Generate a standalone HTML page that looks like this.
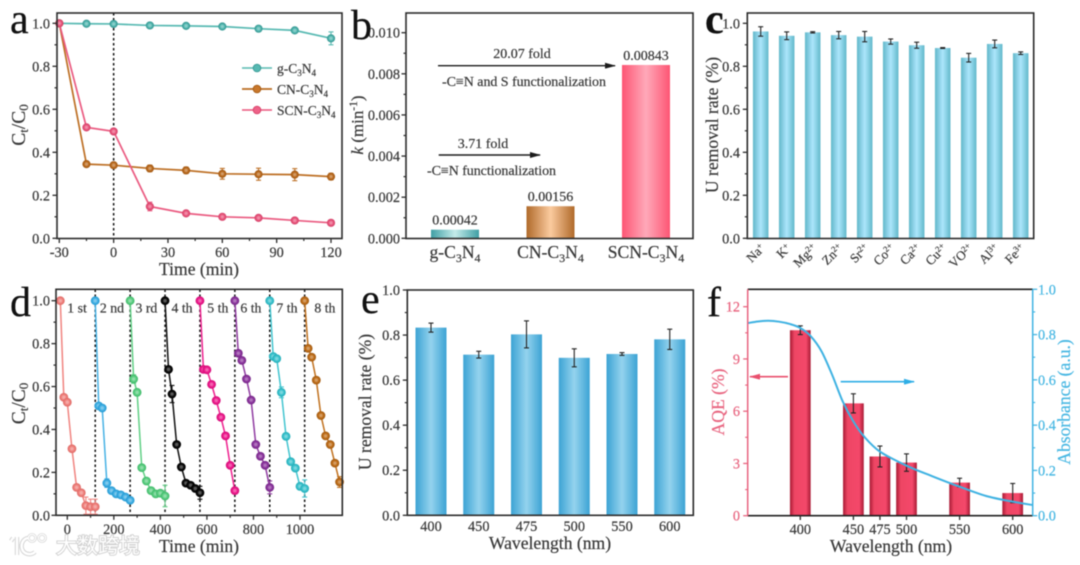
<!DOCTYPE html>
<html lang="en">
<head>
<meta charset="utf-8">
<title>Photocatalytic uranium removal figure</title>
<style>
html,body{margin:0;padding:0;background:#fff;width:1080px;height:565px;overflow:hidden}
svg{display:block;filter:blur(0.5px)}
text{font-family:"Liberation Serif","Noto Serif CJK SC",serif;fill:#383838;stroke:#383838;stroke-width:0.2px}
.tick{font-size:14.3px}
.title{font-size:17.6px}
.letter{font-size:42px;fill:#111;stroke:#111}
.note{font-size:14px}
</style>
</head>
<body>
<svg id="figure" xmlns="http://www.w3.org/2000/svg" width="1080" height="565" viewBox="0 0 1080 565">
<defs>
<linearGradient id="gradTeal" x1="0" x2="1" y1="0" y2="0"><stop offset="0" stop-color="#3f9fa5"/><stop offset=".5" stop-color="#c4ecea"/><stop offset="1" stop-color="#3f9fa5"/></linearGradient>
<linearGradient id="gradBrown" x1="0" x2="1" y1="0" y2="0"><stop offset="0" stop-color="#b06a2a"/><stop offset=".5" stop-color="#fbcb9f"/><stop offset="1" stop-color="#b06a2a"/></linearGradient>
<linearGradient id="gradPink" x1="0" x2="1" y1="0" y2="0"><stop offset="0" stop-color="#fd5574"/><stop offset=".5" stop-color="#ffa9b9"/><stop offset="1" stop-color="#fd5574"/></linearGradient>
<linearGradient id="gradCyan" x1="0" x2="1" y1="0" y2="0"><stop offset="0" stop-color="#62b8ca"/><stop offset=".5" stop-color="#ace6fc"/><stop offset="1" stop-color="#62b8ca"/></linearGradient>
<linearGradient id="gradBlue" x1="0" x2="1" y1="0" y2="0"><stop offset="0" stop-color="#3ca3d4"/><stop offset=".5" stop-color="#94d3ee"/><stop offset="1" stop-color="#3ca3d4"/></linearGradient>
<linearGradient id="gradRed" x1="0" x2="1" y1="0" y2="0"><stop offset="0" stop-color="#a81a34"/><stop offset=".22" stop-color="#ee4664"/><stop offset=".78" stop-color="#f4486a"/><stop offset="1" stop-color="#a81a34"/></linearGradient>
<marker id="arrowBlack" markerWidth="11" markerHeight="6" refX="10" refY="3" orient="auto" markerUnits="userSpaceOnUse"><path d="M0 0L11 3L0 6z" fill="#1c1c1c"/></marker>
<marker id="arrowRed" markerWidth="11" markerHeight="6" refX="10" refY="3" orient="auto" markerUnits="userSpaceOnUse"><path d="M0 0L11 3L0 6z" fill="#e9506e"/></marker>
<marker id="arrowBlue" markerWidth="11" markerHeight="6" refX="10" refY="3" orient="auto" markerUnits="userSpaceOnUse"><path d="M0 0L11 3L0 6z" fill="#2faee6"/></marker>
</defs>

<g id="panelA"></g>
<g id="panelB"></g>
<g id="panelC"></g>
<g id="panelD"></g>
<g id="panelE"></g>
<g id="panelF"></g>

<!-- panel letters -->
<text class="letter" x="10" y="33">a</text>
<text class="letter" x="351" y="39">b</text>
<text class="letter" x="705" y="33" font-weight="bold">c</text>
<text class="letter" x="10" y="316">d</text>
<text class="letter" x="361" y="313">e</text>
<text class="letter" x="707" y="316">f</text>

<!-- axis titles -->
<text class="title" x="199" y="275" text-anchor="middle">Time (min)</text>
<text class="title" transform="translate(25,125) rotate(-90)" text-anchor="middle" style="font-size:19.5px">C<tspan dy="3" font-size="13">t</tspan><tspan dy="-3">/C</tspan><tspan dy="3" font-size="13">0</tspan></text>
<text class="title" transform="translate(363,125) rotate(-90)" text-anchor="middle" style="font-size:17px"><tspan font-style="italic">k</tspan> (min<tspan dy="-6" font-size="11.5">-1</tspan><tspan dy="6">)</tspan></text>
<text class="title" transform="translate(718,125) rotate(-90)" text-anchor="middle">U removal rate (%)</text>
<text class="title" x="199" y="552" text-anchor="middle">Time (min)</text>
<text class="title" transform="translate(25,403.5) rotate(-90)" text-anchor="middle" style="font-size:19.5px">C<tspan dy="3" font-size="13">t</tspan><tspan dy="-3">/C</tspan><tspan dy="3" font-size="13">0</tspan></text>
<text class="title" x="550" y="549" text-anchor="middle">Wavelength (nm)</text>
<text class="title" transform="translate(371,402) rotate(-90)" text-anchor="middle">U removal rate (%)</text>
<text class="title" x="891" y="552" text-anchor="middle">Wavelength (nm)</text>
<text class="title" transform="translate(724,402) rotate(-90)" text-anchor="middle" style="fill:#e8647f;stroke:#e8647f">AQE (%)</text>
<text class="title" transform="translate(1070,402) rotate(-90)" text-anchor="middle" style="fill:#45b6e2;stroke:#45b6e2">Absorbance (a.u.)</text>

<!-- panel a legend -->
<g>
<g>
<line x1="242" x2="272" y1="68" y2="68" stroke="#57b9b2" stroke-width="1.6"/>
<circle cx="257" cy="68" r="3.8" fill="#57b9b2" stroke="#3c9d98"/>
<text x="277" y="73" font-size="13.5">g-C<tspan dy="3" font-size="9">3</tspan><tspan dy="-3">N</tspan><tspan dy="3" font-size="9">4</tspan></text>
</g>
<g>
<line x1="242" x2="272" y1="89" y2="89" stroke="#b96a1f" stroke-width="1.8"/>
<circle cx="257" cy="89" r="3.8" fill="#c9782c" stroke="#a85e18"/>
<text x="277" y="94" font-size="13.5">CN-C<tspan dy="3" font-size="9">3</tspan><tspan dy="-3">N</tspan><tspan dy="3" font-size="9">4</tspan></text>
</g>
<g>
<line x1="242" x2="272" y1="110" y2="110" stroke="#e9557c" stroke-width="1.6"/>
<circle cx="257" cy="110" r="3.8" fill="#ee6288" stroke="#d9476e"/>
<text x="277" y="115" font-size="13.5">SCN-C<tspan dy="3" font-size="9">3</tspan><tspan dy="-3">N</tspan><tspan dy="3" font-size="9">4</tspan></text>
</g>
</g>

<!-- panel b annotations -->
<g>
<text class="note" x="522" y="58" text-anchor="middle">20.07 fold</text>
<line x1="438" x2="615" y1="65.7" y2="65.7" stroke="#1c1c1c" stroke-width="1.4" marker-end="url(#arrowBlack)"/>
<text class="note" x="442" y="86" textLength="164">-C≡N and S functionalization</text>
<text class="note" x="483" y="148" text-anchor="middle">3.71 fold</text>
<line x1="438.7" x2="540" y1="155" y2="155" stroke="#1c1c1c" stroke-width="1.4" marker-end="url(#arrowBlack)"/>
<text class="note" x="427" y="175" textLength="129">-C≡N functionalization</text>
</g>

<!-- panel f arrows -->
<line x1="788" x2="750" y1="376.7" y2="376.7" stroke="#e9506e" stroke-width="1.7" marker-end="url(#arrowRed)"/>
<line x1="840.7" x2="914" y1="381.7" y2="381.7" stroke="#2faee6" stroke-width="1.7" marker-end="url(#arrowBlue)"/>

<!-- watermark -->
<g>
<g fill="none">
<path d="M13 538l-2 3M17 537v18M28 538c-6 1-8 8-5 13c3 4 9 4 12 1" stroke="#d4d4d4" stroke-width="4.4"/>
<circle cx="32" cy="538" r="3.6" stroke="#d4d4d4" stroke-width="2.6"/>
<circle cx="42" cy="538" r="3.6" stroke="#d4d4d4" stroke-width="2.6"/>
<path d="M13 538l-2 3M17 537v18M28 538c-6 1-8 8-5 13c3 4 9 4 12 1" stroke="#ffffff" stroke-width="2.4"/>
<circle cx="32" cy="538" r="3.6" stroke="#ffffff" stroke-width="1.2"/>
<circle cx="42" cy="538" r="3.6" stroke="#ffffff" stroke-width="1.2"/>
</g>
<text x="56" y="553" font-size="21" style="fill:#ffffff;stroke:#cfcfcf;stroke-width:1.8px;paint-order:stroke;font-family:'Liberation Sans','Noto Sans CJK SC',sans-serif">大数跨境</text>
</g>
</svg>

<script>
/* ---------- panel a data ---------- */
var aTimes = [-30, -15, 0, 20, 40, 60, 80, 100, 120];
var aG = [1, 0.998, 0.997, 0.99, 0.988, 0.985, 0.975, 0.967, 0.93];
var aGErr = [0, 0.005, 0.006, 0.006, 0.006, 0.008, 0.01, 0.01, 0.03];
var aCN = [1, 0.345, 0.34, 0.325, 0.316, 0.3, 0.298, 0.296, 0.287];
var aCNErr = [0, 0.01, 0.01, 0.015, 0.015, 0.025, 0.028, 0.028, 0.015];
var aSCN = [1, 0.516, 0.497, 0.148, 0.116, 0.1, 0.095, 0.083, 0.072];
var aSCNErr = [0, 0.01, 0.012, 0.02, 0.012, 0.01, 0.008, 0.008, 0.008];
var aXTicks = [-30, 0, 30, 60, 90, 120];
var aYTicks = [0, 0.2, 0.4, 0.6, 0.8, 1.0];

/* ---------- panel b data ---------- */
var bCategories = ['g', 'CN', 'SCN'];
var bValues = [0.00042, 0.00156, 0.00843];
var bLabels = ['0.00042', '0.00156', '0.00843'];
var bYTicks = [0, 0.002, 0.004, 0.006, 0.008, 0.01];

/* ---------- panel c data ---------- */
var cIons = ['Na', 'K', 'Mg', 'Zn', 'Sr', 'Co', 'Ca', 'Cu', 'VO', 'Al', 'Fe'];
var cCharges = ['+', '+', '2+', '2+', '2+', '2+', '2+', '2+', '2+', '3+', '3+'];
var cValues = [0.962, 0.942, 0.958, 0.945, 0.938, 0.915, 0.898, 0.885, 0.84, 0.904, 0.861];
var cErrors = [0.022, 0.018, 0.003, 0.017, 0.024, 0.012, 0.014, 0.002, 0.02, 0.018, 0.006];
var cYTicks = [0, 0.2, 0.4, 0.6, 0.8, 1.0];

/* ---------- panel d data ---------- */
var dCycleLabels = ['1 st', '2 nd', '3 rd', '4 th', '5 th', '6 th', '7 th', '8 th'];
var dCycleLabelTimes = [42, 192, 340, 493, 647, 789, 944, 1107];
var dCycleTimes = [
  [-30, -15, 0, 20, 40, 60, 80, 100, 120],
  [120, 135, 150, 170, 190, 210, 230, 250, 270],
  [270, 285, 300, 320, 340, 360, 380, 400, 420],
  [420, 435, 450, 470, 490, 510, 530, 550, 570],
  [570, 585, 600, 620, 640, 660, 680, 700, 720],
  [720, 735, 750, 770, 790, 810, 830, 850, 870],
  [870, 885, 900, 920, 940, 960, 980, 1000, 1020],
  [1020, 1035, 1050, 1070, 1090, 1110, 1130, 1150, 1170]
];
var dCycleValues = [
  [1, 0.55, 0.527, 0.31, 0.13, 0.105, 0.045, 0.04, 0.04],
  [1, 0.51, 0.5, 0.15, 0.115, 0.1, 0.095, 0.085, 0.07],
  [1, 0.635, 0.573, 0.222, 0.16, 0.115, 0.1, 0.103, 0.09],
  [1, 0.68, 0.565, 0.33, 0.225, 0.15, 0.14, 0.125, 0.105],
  [1, 0.68, 0.678, 0.61, 0.535, 0.457, 0.37, 0.233, 0.115],
  [1, 0.755, 0.722, 0.635, 0.537, 0.33, 0.275, 0.233, 0.13],
  [1, 0.74, 0.73, 0.573, 0.368, 0.25, 0.22, 0.135, 0.125],
  [1, 0.778, 0.737, 0.63, 0.465, 0.37, 0.33, 0.243, 0.155]
];
var dCycleErrors = [
  [0, 0, 0, 0, 0, 0.01, 0.04, 0.035, 0.035],
  [0, 0.01, 0.01, 0.02, 0.01, 0.008, 0.008, 0.008, 0.01],
  [0, 0.02, 0.01, 0.01, 0.01, 0.01, 0.01, 0.01, 0.05],
  [0, 0.01, 0.04, 0.01, 0.01, 0.01, 0.01, 0.012, 0.03],
  [0, 0.01, 0.01, 0.01, 0.01, 0.01, 0.01, 0.01, 0.015],
  [0, 0.01, 0.01, 0.01, 0.01, 0.01, 0.01, 0.01, 0.03],
  [0, 0.01, 0.01, 0.025, 0.01, 0.01, 0.01, 0.015, 0.04],
  [0, 0.01, 0.01, 0.01, 0.01, 0.01, 0.01, 0.01, 0.025]
];
var dCycleDashes = [120, 270, 420, 570, 720, 870, 1020];
var dXTicks = [0, 200, 400, 600, 800, 1000];
var dYTicks = [0, 0.2, 0.4, 0.6, 0.8, 1.0];

/* ---------- panel e data ---------- */
var eCategories = ['400', '450', '475', '500', '550', '600'];
var eValues = [0.833, 0.713, 0.803, 0.699, 0.716, 0.781];
var eErrors = [0.02, 0.015, 0.06, 0.04, 0.006, 0.045];
var eYTicks = [0, 0.2, 0.4, 0.6, 0.8, 1.0];

/* ---------- panel f data ---------- */
var fWavelengths = [400, 450, 475, 500, 550, 600];
var fAQE = [10.65, 6.45, 3.4, 3.05, 1.9, 1.3];
var fAQEErr = [0.25, 0.55, 0.6, 0.5, 0.25, 0.55];
var fLeftTicks = [0, 3, 6, 9, 12];
var fRightTicks = [0, 0.2, 0.4, 0.6, 0.8, 1.0];
var fCurveWavelengths = [351, 360, 370, 380, 390, 400, 410, 420, 430, 440, 450, 460, 475, 500, 525, 550, 575, 600, 619];
var fCurveAbsorbance = [0.851, 0.858, 0.861, 0.857, 0.847, 0.829, 0.792, 0.726, 0.622, 0.504, 0.416, 0.35, 0.283, 0.221, 0.173, 0.128, 0.087, 0.062, 0.047];

/* ---------- helpers ---------- */
var NS = 'http://www.w3.org/2000/svg';
var FRAME = '#2c2c2c';

function make(parent, tag, attrs) {
  var node = document.createElementNS(NS, tag);
  for (var k in attrs) { node.setAttribute(k, attrs[k]); }
  parent.appendChild(node);
  return node;
}
function scale(d0, d1, r0, r1) {
  return function (v) { return r0 + (v - d0) * (r1 - r0) / (d1 - d0); };
}
function frame(parent, name, x0, y0, x1, y1) {
  var r = make(parent, 'rect', { x: x0, y: y0, width: x1 - x0, height: y1 - y0, fill: 'none', stroke: FRAME, 'stroke-width': 1.6 });
  
  
}
function yAxis(parent, name, ticks, y, x0, decimals, labelX, color) {
  var g = make(parent, 'g', {});
  
  
  var dir = labelX > x0 ? 1 : -1;
  ticks.forEach(function (t, i) {
    make(g, 'line', { x1: x0, x2: x0 + dir * 4.5, y1: y(t), y2: y(t), stroke: color || FRAME, 'stroke-width': 1.3 });
    var label = make(g, 'text', { x: labelX, y: y(t) + 5, 'text-anchor': dir < 0 ? 'end' : 'start', 'class': 'tick' });
    if (color) { label.style.fill = color; label.style.stroke = color; }
    label.textContent = t.toFixed(decimals);
    if (i < ticks.length - 1) {
      var m = (t + ticks[i + 1]) / 2;
      make(g, 'line', { x1: x0, x2: x0 + dir * 2.5, y1: y(m), y2: y(m), stroke: color || FRAME, 'stroke-width': 1.2 });
    }
  });
}
function xAxis(parent, name, ticks, x, y0, baseline, minor) {
  var g = make(parent, 'g', {});
  
  
  ticks.forEach(function (t, i) {
    make(g, 'line', { x1: x(t), x2: x(t), y1: y0, y2: y0 + 4.5, stroke: FRAME, 'stroke-width': 1.3 });
    var label = make(g, 'text', { x: x(t), y: baseline, 'text-anchor': 'middle', 'class': 'tick' });
    label.textContent = String(t);
    if (minor && i < ticks.length - 1) {
      var m = (t + ticks[i + 1]) / 2;
      make(g, 'line', { x1: x(m), x2: x(m), y1: y0, y2: y0 + 2.5, stroke: FRAME, 'stroke-width': 1.2 });
    }
  });
}
function errorBar(parent, name, x, yLow, yHigh, cap, color, sw) {
  var g = make(parent, 'g', { stroke: color, 'stroke-width': sw, fill: 'none' });
  
  
  make(g, 'line', { x1: x, x2: x, y1: yLow, y2: yHigh });
  make(g, 'line', { x1: x - cap, x2: x + cap, y1: yLow, y2: yLow });
  make(g, 'line', { x1: x - cap, x2: x + cap, y1: yHigh, y2: yHigh });
}
function bar(parent, name, cx, w, yTop, yBase, fill) {
  var r = make(parent, 'rect', { x: cx - w / 2, y: yTop, width: w, height: Math.max(0, yBase - yTop), fill: fill });
  
  
}
function lineSeries(parent, name, xs, ys, errs, x, y, color, dark, lineWidth, radius, cap) {
  var g = make(parent, 'g', {});
  
  
  var pts = xs.map(function (t, i) { return x(t).toFixed(2) + ',' + y(ys[i]).toFixed(2); }).join(' ');
  var pl = make(g, 'polyline', { points: pts, fill: 'none', stroke: color, 'stroke-width': lineWidth });
  
  
  xs.forEach(function (t, i) {
    if (errs[i] > 0) {
      errorBar(g, name + '-error-' + i, x(t), y(ys[i] - errs[i]), y(ys[i] + errs[i]), cap, color, 1.1);
    }
    var c = make(g, 'circle', { cx: x(t), cy: y(ys[i]), r: radius, fill: color, stroke: dark, 'stroke-width': 1.2 });
    
    
    make(g, 'circle', { cx: x(t), cy: y(ys[i]), r: radius * 0.45, fill: '#ffffff', 'fill-opacity': 0.3 });
  });
}
function chemLabel(parent, cx, baseline, prefix) {
  var t = make(parent, 'text', { x: cx, y: baseline, 'text-anchor': 'middle', 'font-size': 17.6 });
  t.appendChild(document.createTextNode(prefix + 'C'));
  var s1 = make(t, 'tspan', { dy: 4, 'font-size': 12 });
  s1.textContent = '3';
  var s2 = make(t, 'tspan', { dy: -4 });
  s2.textContent = 'N';
  var s3 = make(t, 'tspan', { dy: 4, 'font-size': 12 });
  s3.textContent = '4';
  return t;
}
/* Smooth path through data points (Catmull-Rom converted to cubic Beziers). */
function smoothPath(px, py) {
  var d = 'M' + px[0].toFixed(2) + ' ' + py[0].toFixed(2);
  for (var i = 0; i < px.length - 1; i++) {
    var p0 = Math.max(i - 1, 0), p3 = Math.min(i + 2, px.length - 1);
    var c1x = px[i] + (px[i + 1] - px[p0]) / 6, c1y = py[i] + (py[i + 1] - py[p0]) / 6;
    var c2x = px[i + 1] - (px[p3] - px[i]) / 6, c2y = py[i + 1] - (py[p3] - py[i]) / 6;
    d += 'C' + c1x.toFixed(2) + ' ' + c1y.toFixed(2) + ' ' + c2x.toFixed(2) + ' ' + c2y.toFixed(2) + ' ' + px[i + 1].toFixed(2) + ' ' + py[i + 1].toFixed(2);
  }
  return d;
}

/* ---------- panel a ---------- */
(function () {
  var p = document.getElementById('panelA');
  var x = scale(-30, 120, 59.3, 331), y = scale(0, 1, 238.3, 23.3);
  var dash = make(p, 'line', { x1: x(0), x2: x(0), y1: 13, y2: 238, stroke: '#111', 'stroke-width': 1.5, 'stroke-dasharray': '2.5 2.5' });
  
  
  lineSeries(p, 'series-g-c3n4', aTimes, aG, aGErr, x, y, '#57b9b2', '#3c9d98', 1.7, 3.5, 2.5);
  lineSeries(p, 'series-cn-c3n4', aTimes, aCN, aCNErr, x, y, '#bd6f24', '#a85e18', 1.7, 3.5, 2.5);
  lineSeries(p, 'series-scn-c3n4', aTimes, aSCN, aSCNErr, x, y, '#ea5a80', '#d9476e', 1.7, 3.5, 2.5);
  frame(p, 'panel-a', 57, 13, 342, 238.5);
  xAxis(p, 'panel-a-x-axis', aXTicks, x, 238.5, 257, true);
  yAxis(p, 'panel-a-y-axis', aYTicks, y, 57, 1, 50);
})();

/* ---------- panel b ---------- */
(function () {
  var p = document.getElementById('panelB');
  var y = scale(0, 0.01, 238.3, 32.7);
  var centers = function (i) { return 455 + i * 95.5; };
  var fills = ['url(#gradTeal)', 'url(#gradBrown)', 'url(#gradPink)'];
  bCategories.forEach(function (c, i) {
    bar(p, 'bar-' + c, centers(i), 48, y(bValues[i]), 238.3, fills[i]);
    var v = make(p, 'text', { x: centers(i), y: y(bValues[i]) - 5, 'text-anchor': 'middle', 'class': 'note' });
    
    
    v.textContent = bLabels[i];
    var lab = chemLabel(p, centers(i), 258, c === 'g' ? 'g-' : c + '-');
    
    
  });
  frame(p, 'panel-b', 406, 13, 693, 238.5);
  yAxis(p, 'panel-b-y-axis', bYTicks, y, 406, 3, 400);
})();

/* ---------- panel c ---------- */
(function () {
  var p = document.getElementById('panelC');
  var y = scale(0, 1, 238.3, 23.3);
  var center = function (i) { return 760.7 + i * 26; };
  cIons.forEach(function (ion, i) {
    bar(p, 'bar-' + ion, center(i), 15.5, y(cValues[i]), 238.3, 'url(#gradCyan)');
    errorBar(p, 'error-bar-' + ion, center(i), y(cValues[i] - cErrors[i]), y(cValues[i] + cErrors[i]), 2.5, '#222', 1.1);
    var t = make(p, 'text', { 'text-anchor': 'end', 'font-size': 13, transform: 'translate(' + (center(i) + 5) + ',' + 249 + ') rotate(-45)' });
    
    
    t.appendChild(document.createTextNode(ion));
    var sup = make(t, 'tspan', { dy: -4, 'font-size': 8.5 });
    sup.textContent = cCharges[i];
  });
  frame(p, 'panel-c', 747.3, 13, 1033.7, 238.5);
  yAxis(p, 'panel-c-y-axis', cYTicks, y, 747.3, 1, 740);
})();

/* ---------- panel d ---------- */
(function () {
  var p = document.getElementById('panelD');
  var x = scale(0, 1000, 67.3, 300), y = scale(0, 1, 515.3, 300.7);
  var colors = ['#f0837f', '#45b1e4', '#5fcf84', '#111111', '#ee1f8e', '#8f3aa0', '#40c4cf', '#c0701d'];
  var darks = ['#e2706c', '#2a9ed6', '#45bd6e', '#000000', '#d8107c', '#7a2a8c', '#2ab2bd', '#a85f14'];
  dCycleDashes.forEach(function (t, i) {
    var d = make(p, 'line', { x1: x(t), x2: x(t), y1: 289.5, y2: 515, stroke: '#111', 'stroke-width': 1.5, 'stroke-dasharray': '2.5 2.5' });
    
    
  });
  dCycleLabels.forEach(function (label, i) {
    lineSeries(p, 'cycle-' + (i + 1) + '-series', dCycleTimes[i], dCycleValues[i], dCycleErrors[i], x, y, colors[i], darks[i], 1.5, 3.8, 2.5);
    var t = make(p, 'text', { x: x(dCycleLabelTimes[i]), y: 312.5, 'font-size': 13.8, 'text-anchor': 'middle' });
    
    
    t.textContent = label;
  });
  frame(p, 'panel-d', 56, 289.3, 342.3, 515.3);
  xAxis(p, 'panel-d-x-axis', dXTicks, x, 515.3, 534, true);
  yAxis(p, 'panel-d-y-axis', dYTicks, y, 56, 1, 50);
})();

/* ---------- panel e ---------- */
(function () {
  var p = document.getElementById('panelE');
  var y = scale(0, 1, 515.3, 290);
  var center = function (i) { return 431 + i * 47.75; };
  var g = make(p, 'g', {});
  
  
  eCategories.forEach(function (c, i) {
    bar(p, 'bar-' + c, center(i), 31, y(eValues[i]), 515.3, 'url(#gradBlue)');
    errorBar(p, 'error-bar-' + c, center(i), y(eValues[i] - eErrors[i]), y(eValues[i] + eErrors[i]), 2.5, '#222', 1.1);
    var t = make(g, 'text', { x: center(i), y: 531, 'text-anchor': 'middle', 'class': 'tick' });
    t.textContent = c;
  });
  frame(p, 'panel-e', 407.3, 290, 693.3, 515.3);
  yAxis(p, 'panel-e-y-axis', eYTicks, y, 407.3, 1, 400);
})();

/* ---------- panel f ---------- */
(function () {
  var p = document.getElementById('panelF');
  var x = scale(400, 600, 800.3, 1012.7);
  var yL = scale(0, 12, 515.7, 306.7);
  var yR = scale(0, 1, 515.7, 289.3);
  fWavelengths.forEach(function (w, i) {
    bar(p, 'bar-' + w, x(w), 20.7, yL(fAQE[i]), 515.7, 'url(#gradRed)');
    errorBar(p, 'error-bar-' + w, x(w), yL(fAQE[i] - fAQEErr[i]), yL(fAQE[i] + fAQEErr[i]), 2.5, '#222', 1.1);
  });
  var curve = make(p, 'path', {
    d: smoothPath(fCurveWavelengths.map(x), fCurveAbsorbance.map(yR)),
    fill: 'none', stroke: '#3fb2e2', 'stroke-width': 2
  });
  
  
  var top = make(p, 'line', { x1: 747.7, x2: 1032.7, y1: 289.3, y2: 289.3, stroke: '#222', 'stroke-width': 1.6 });
  
  
  var bottom = make(p, 'line', { x1: 747.7, x2: 1032.7, y1: 515.7, y2: 515.7, stroke: '#222', 'stroke-width': 1.6 });
  
  
  var left = make(p, 'line', { x1: 747.7, x2: 747.7, y1: 289.3, y2: 515.7, stroke: '#e8647f', 'stroke-width': 1.5 });
  
  
  var right = make(p, 'line', { x1: 1032.7, x2: 1032.7, y1: 289.3, y2: 515.7, stroke: '#3fb2e2', 'stroke-width': 1.5 });
  
  
  var g = make(p, 'g', {});
  
  
  fWavelengths.forEach(function (w) {
    make(g, 'line', { x1: x(w), x2: x(w), y1: 515.7, y2: 520, stroke: FRAME, 'stroke-width': 1.3 });
    var t = make(g, 'text', { x: x(w), y: 534, 'text-anchor': 'middle', 'class': 'tick' });
    t.textContent = String(w);
  });
  yAxis(p, 'panel-f-left-axis', fLeftTicks, yL, 747.7, 0, 740, '#e8647f');
  yAxis(p, 'panel-f-right-axis', fRightTicks, yR, 1032.7, 1, 1038, '#45b6e2');
})();
</script>
</body>
</html>
